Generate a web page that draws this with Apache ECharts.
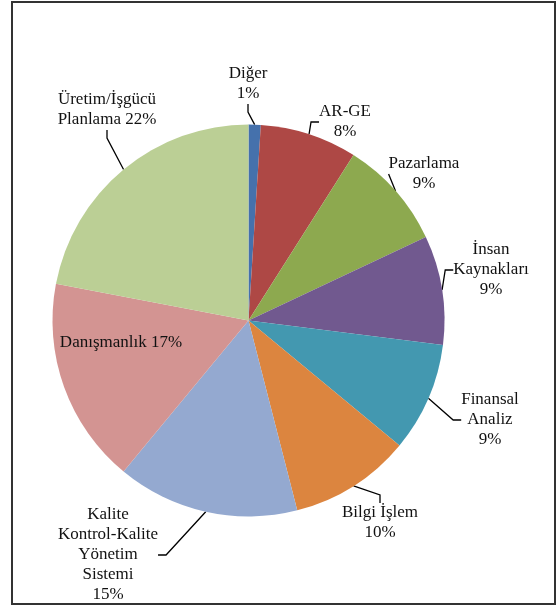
<!DOCTYPE html>
<html><head><meta charset="utf-8">
<script src="https://cdn.jsdelivr.net/npm/echarts@6/dist/echarts.min.js"></script>
<style>html,body{margin:0;padding:0;background:#fff;}#frame{position:absolute;left:11px;top:1px;width:541px;height:600px;border:2px solid #333;box-sizing:content-box;}#c{position:absolute;left:0;top:0;width:559px;height:606px;}</style>
</head><body>
<div id="frame"></div>
<div id="c"></div>
<script>
var categories = ['Diğer\n1%', 'AR-GE\n8%', 'Pazarlama\n9%', 'İnsan\nKaynakları\n9%', 'Finansal\nAnaliz\n9%', 'Bilgi İşlem\n10%', 'Kalite\nKontrol-Kalite\nYönetim\nSistemi\n15%', 'Danışmanlık 17%', 'Üretim/İşgücü\nPlanlama 22%'];
var values = [1, 8, 9, 9, 9, 10, 15, 17, 22];
var colors = ['#4571AC', '#AE4845', '#8DA94F', '#71598F', '#4398B0', '#DC853F', '#94A9D0', '#D39492', '#BBCF95'];
var labelPos = [[248, 84], [345, 122], [424, 174], [491, 270], [490, 420], [380, 523], [108, 555], [121, 343], [107, 110]];

var chart = echarts.init(document.getElementById('c'), null, {renderer: 'canvas'});
var data = values.map(function (v, i) {
  var item = {value: v, name: categories[i], itemStyle: {color: colors[i]}};
  if (i === 7) { item.labelLine = {show: false}; }
  return item;
});
chart.setOption({
  animation: false,
  series: [{
    type: 'pie',
    center: [248.5, 320.5],
    radius: 196,
    startAngle: 90,
    clockwise: true,
    avoidLabelOverlap: false,
    data: data,
    itemStyle: {borderWidth: 0},
    emphasis: {disabled: true},
    label: {
      show: true,
      position: 'outside',
      formatter: '{b}',
      fontFamily: '"Liberation Serif", "Times New Roman", "DejaVu Serif", serif',
      fontSize: 17,
      lineHeight: 20,
      color: '#111',
      align: 'center'
    },
    labelLine: {show: true, length: 10, length2: 8, lineStyle: {color: '#000', width: 1.3}},
    labelLayout: function (p) {
      var pos = labelPos[p.dataIndex];
      return {x: pos[0], y: pos[1], align: 'center', verticalAlign: 'middle'};
    }
  }]
});
</script>
</body></html>
